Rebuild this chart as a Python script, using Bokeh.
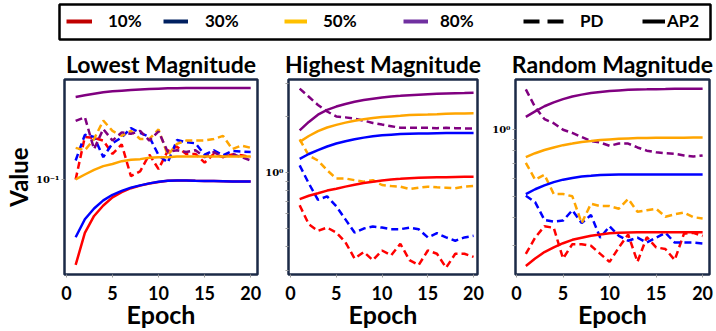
from bokeh.plotting import figure
from bokeh.models import Range1d, FixedTicker, Legend, LegendItem
from bokeh.layouts import column, row
from bokeh.embed import file_html
from bokeh.resources import INLINE

# ---------------- data ----------------
epochs = list(range(1, 21))
x_ticks = [0, 5, 10, 15, 20]
pct_labels = ["10%", "30%", "50%", "80%"]
line_colors = ["#ff0000", "#0000ff", "#ffa500", "#800080"]
legend_colors = ["#c00000", "#002060", "#ffc000", "#7030a0"]
method_labels = ["PD", "AP2"]
panel_titles = ["Lowest Magnitude", "Highest Magnitude", "Random Magnitude"]

# Lowest Magnitude
low_ap2_10 = [0.0366, 0.0533, 0.0651, 0.0736, 0.0810, 0.0861, 0.0902, 0.0930, 0.0953, 0.0971,
              0.0984, 0.0988, 0.0988, 0.0985, 0.0983, 0.0981, 0.0979, 0.0977, 0.0976, 0.0975]
low_ap2_30 = [0.0507, 0.0626, 0.0711, 0.0782, 0.0835, 0.0874, 0.0908, 0.0933, 0.0955, 0.0973,
              0.0985, 0.0988, 0.0988, 0.0985, 0.0983, 0.0981, 0.0979, 0.0977, 0.0976, 0.0975]
low_ap2_50 = [0.100, 0.106, 0.112, 0.117, 0.120, 0.124, 0.126, 0.127, 0.129, 0.130,
              0.130, 0.131, 0.131, 0.131, 0.131, 0.131, 0.131, 0.131, 0.131, 0.131]
low_ap2_80 = [0.264, 0.269, 0.274, 0.279, 0.282, 0.284, 0.286, 0.288, 0.290, 0.291,
              0.292, 0.292, 0.293, 0.293, 0.293, 0.293, 0.293, 0.293, 0.293, 0.293]
low_pd_10 = [0.100, 0.165, 0.163, 0.158, 0.135, 0.151, 0.104, 0.110, 0.134, 0.113,
             0.140, 0.147, 0.135, 0.135, 0.122, 0.135, 0.130, 0.134, 0.133, 0.130]
low_pd_30 = [0.125, 0.169, 0.165, 0.130, 0.153, 0.164, 0.183, 0.173, 0.165, 0.133,
             0.122, 0.159, 0.155, 0.153, 0.134, 0.141, 0.133, 0.140, 0.139, 0.138]
low_pd_50 = [0.145, 0.141, 0.161, 0.200, 0.177, 0.167, 0.177, 0.161, 0.161, 0.180,
             0.133, 0.152, 0.158, 0.158, 0.158, 0.161, 0.167, 0.143, 0.149, 0.145]
low_pd_80 = [0.199, 0.208, 0.143, 0.181, 0.158, 0.174, 0.171, 0.177, 0.158, 0.176,
             0.138, 0.141, 0.138, 0.141, 0.130, 0.138, 0.130, 0.135, 0.130, 0.125]

# Highest Magnitude
high_ap2_10 = [0.721, 0.751, 0.775, 0.801, 0.820, 0.841, 0.861, 0.879, 0.893, 0.908,
               0.919, 0.926, 0.934, 0.938, 0.941, 0.943, 0.945, 0.947, 0.949, 0.949]
high_ap2_30 = [1.185, 1.259, 1.321, 1.381, 1.433, 1.474, 1.510, 1.541, 1.566, 1.585,
               1.598, 1.611, 1.618, 1.621, 1.624, 1.628, 1.631, 1.631, 1.631, 1.631]
high_ap2_50 = [1.462, 1.572, 1.671, 1.747, 1.804, 1.855, 1.900, 1.932, 1.963, 1.987,
               2.003, 2.019, 2.036, 2.045, 2.052, 2.060, 2.069, 2.073, 2.077, 2.081]
high_ap2_80 = [1.684, 1.871, 2.045, 2.172, 2.262, 2.336, 2.403, 2.452, 2.492, 2.533,
               2.564, 2.584, 2.605, 2.621, 2.637, 2.648, 2.659, 2.669, 2.674, 2.680]
high_pd_10 = [0.668, 0.528, 0.487, 0.507, 0.477, 0.423, 0.346, 0.375, 0.339, 0.382,
              0.360, 0.415, 0.339, 0.319, 0.382, 0.367, 0.309, 0.367, 0.367, 0.353]
high_pd_30 = [1.093, 0.875, 0.715, 0.745, 0.660, 0.561, 0.477, 0.501, 0.514, 0.507,
              0.497, 0.497, 0.507, 0.497, 0.449, 0.473, 0.449, 0.431, 0.449, 0.458]
high_pd_50 = [1.510, 1.234, 1.161, 1.029, 0.930, 0.930, 0.911, 0.893, 0.911, 0.858,
              0.847, 0.841, 0.817, 0.830, 0.841, 0.834, 0.830, 0.824, 0.841, 0.847]
high_pd_80 = [2.824, 2.553, 2.307, 2.128, 2.003, 1.979, 1.947, 1.900, 1.848, 1.811,
              1.775, 1.739, 1.739, 1.739, 1.739, 1.732, 1.739, 1.732, 1.725, 1.725]

# Random Magnitude
rand_ap2_10 = [0.2425, 0.2619, 0.280, 0.294, 0.307, 0.318, 0.325, 0.332, 0.336, 0.340,
               0.342, 0.343, 0.344, 0.344, 0.344, 0.344, 0.344, 0.344, 0.344, 0.344]
rand_ap2_30 = [0.511, 0.537, 0.559, 0.578, 0.593, 0.603, 0.613, 0.617, 0.622, 0.624,
               0.626, 0.626, 0.626, 0.626, 0.626, 0.626, 0.626, 0.626, 0.626, 0.626]
rand_ap2_50 = [0.749, 0.780, 0.806, 0.828, 0.848, 0.862, 0.877, 0.885, 0.894, 0.900,
               0.906, 0.909, 0.912, 0.913, 0.915, 0.915, 0.916, 0.916, 0.917, 0.917]
rand_ap2_80 = [1.137, 1.204, 1.269, 1.321, 1.366, 1.403, 1.431, 1.455, 1.470, 1.485,
               1.495, 1.505, 1.510, 1.512, 1.515, 1.517, 1.520, 1.520, 1.520, 1.520]
rand_pd_10 = [0.275, 0.325, 0.366, 0.360, 0.262, 0.304, 0.304, 0.299, 0.275, 0.253,
              0.294, 0.336, 0.253, 0.327, 0.294, 0.289, 0.258, 0.339, 0.342, 0.331]
rand_pd_30 = [0.502, 0.470, 0.391, 0.384, 0.388, 0.432, 0.378, 0.411, 0.325, 0.366,
              0.331, 0.315, 0.325, 0.309, 0.325, 0.342, 0.309, 0.309, 0.309, 0.306]
rand_pd_50 = [0.706, 0.593, 0.624, 0.511, 0.511, 0.499, 0.378, 0.462, 0.451, 0.451,
              0.439, 0.486, 0.425, 0.432, 0.439, 0.404, 0.414, 0.422, 0.402, 0.397]
rand_pd_80 = [1.510, 1.257, 1.111, 1.064, 0.995, 0.962, 0.922, 0.885, 0.871, 0.842,
              0.862, 0.862, 0.828, 0.801, 0.788, 0.780, 0.775, 0.762, 0.754, 0.762]

# ---------------- style ----------------
FONT = "Lato"
OUTLINE = "#1b2a47"
DASH = "7 4"
PANEL_H = 289


def make_panel(title, width, b_left, b_right, xr, yr, major, major_text, minors,
               pd_series, ap2_series, ylabel=None):
    p = figure(width=width, height=PANEL_H, y_axis_type="log",
               x_range=Range1d(*xr), y_range=Range1d(*yr),
               output_backend="svg", toolbar_location=None,
               min_border_left=b_left, min_border_right=b_right,
               min_border_top=37, min_border_bottom=53)
    p.title.text = title
    p.title.align = "center"
    p.title.text_font = FONT
    p.title.text_font_size = "23px"
    p.title.text_font_style = "bold"
    p.title.text_color = "black"
    p.title.standoff = 3
    p.outline_line_color = OUTLINE
    p.outline_line_width = 2.5
    p.outline_line_alpha = 1
    p.xgrid.visible = False
    p.ygrid.visible = False
    p.background_fill_color = "white"
    p.border_fill_color = "white"

    for s, c in zip(pd_series, line_colors):
        p.line(epochs, s, line_color=c, line_width=2.5, line_dash=DASH)
    for s, c in zip(ap2_series, line_colors):
        p.line(epochs, s, line_color=c, line_width=2.5)

    xa = p.xaxis[0]
    xa.ticker = FixedTicker(ticks=x_ticks, minor_ticks=[])
    xa.axis_line_color = None
    xa.major_tick_line_color = "#9a9a9a"
    xa.major_tick_out = 3
    xa.major_tick_in = 0
    xa.major_label_standoff = 8
    xa.major_label_text_font = FONT
    xa.major_label_text_font_size = "18px"
    xa.major_label_text_font_style = "bold"
    xa.major_label_text_color = "black"
    xa.major_label_text_line_height = 1.0
    xa.axis_label = "Epoch"
    xa.axis_label_standoff = -4
    xa.axis_label_text_font = FONT
    xa.axis_label_text_font_size = "25px"
    xa.axis_label_text_font_style = "bold"
    xa.axis_label_text_color = "black"
    xa.axis_label_text_line_height = 1.0

    ya = p.yaxis[0]
    ya.ticker = FixedTicker(ticks=[major], minor_ticks=minors)
    ya.major_label_overrides = {major: major_text}
    ya.axis_line_color = None
    ya.major_tick_line_color = "#9a9a9a"
    ya.minor_tick_line_color = "#9a9a9a"
    ya.major_tick_out = 3
    ya.major_tick_in = 0
    ya.minor_tick_out = 3
    ya.minor_tick_in = 0
    ya.major_label_standoff = 2
    ya.major_label_text_font = "DejaVu Serif"
    ya.major_label_text_font_size = "10px"
    ya.major_label_text_font_style = "bold"
    ya.major_label_text_color = "black"
    if ylabel:
        ya.axis_label = ylabel
        ya.axis_label_standoff = 0
        ya.axis_label_text_font = FONT
        ya.axis_label_text_font_size = "24px"
        ya.axis_label_text_font_style = "bold"
        ya.axis_label_text_color = "black"
        ya.axis_label_text_line_height = 1.0
    return p


p1 = make_panel(panel_titles[0], 262, 59, 5, (-0.21, 20.74), (0.0327, 0.324),
                0.1, "10\u207b\u00b9", [],
                [low_pd_10, low_pd_30, low_pd_50, low_pd_80],
                [low_ap2_10, low_ap2_30, low_ap2_50, low_ap2_80], ylabel="Value")
p2 = make_panel(panel_titles[1], 227, 24, 12, (-0.22, 20.43), (0.284, 3.16),
                1, "10\u2070", [0.3, 0.4, 0.5, 0.6, 0.7, 0.8, 0.9, 2, 3],
                [high_pd_10, high_pd_30, high_pd_50, high_pd_80],
                [high_ap2_10, high_ap2_30, high_ap2_50, high_ap2_80])
p3 = make_panel(panel_titles[2], 227, 24, 7, (-0.11, 20.74), (0.222, 1.674),
                1, "10\u2070", [0.3, 0.4, 0.5, 0.6, 0.7, 0.8, 0.9],
                [rand_pd_10, rand_pd_30, rand_pd_50, rand_pd_80],
                [rand_ap2_10, rand_ap2_30, rand_ap2_50, rand_ap2_80])

# ---------------- legend strip ----------------
lg = figure(width=716, height=42, x_range=Range1d(0, 1), y_range=Range1d(0, 1),
            output_backend="svg", toolbar_location=None,
            min_border_left=59, min_border_right=6, min_border_top=4, min_border_bottom=3)
lg.xaxis.visible = False
lg.yaxis.visible = False
lg.xgrid.visible = False
lg.ygrid.visible = False
lg.outline_line_color = "black"
lg.outline_line_width = 2.5

entry_labels = pct_labels + method_labels
entry_colors = legend_colors + ["black", "black"]
entry_dash = ["solid"] * 4 + ["16 8", "solid"]
entry_x = [7, 104, 225, 344, 464, 583]
entry_glyph_w = [26, 25, 23, 25, 41, 23]
entry_standoff = [16, 17, 16, 12, 16, 2]
proxy_x = [5, 6]   # legend proxies sit outside the strip's visible range
proxy_y = [5, 6]

for lab, col, dsh, ex, gw, so in zip(entry_labels, entry_colors, entry_dash,
                                     entry_x, entry_glyph_w, entry_standoff):
    r = lg.line(proxy_x, proxy_y, line_color=col, line_width=4, line_dash=dsh)
    leg = Legend(items=[LegendItem(label=lab, renderers=[r])],
                 location=(ex, 8), orientation="horizontal",
                 padding=0, margin=0, spacing=0,
                 glyph_width=gw, glyph_height=20, label_standoff=so,
                 label_text_font=FONT, label_text_font_size="17px",
                 label_text_font_style="bold", label_text_color="black",
                 border_line_color=None, background_fill_alpha=0)
    lg.add_layout(leg, "center")

layout = column(lg, row(p1, p2, p3))
open("out.html", "w").write(file_html(layout, INLINE))
